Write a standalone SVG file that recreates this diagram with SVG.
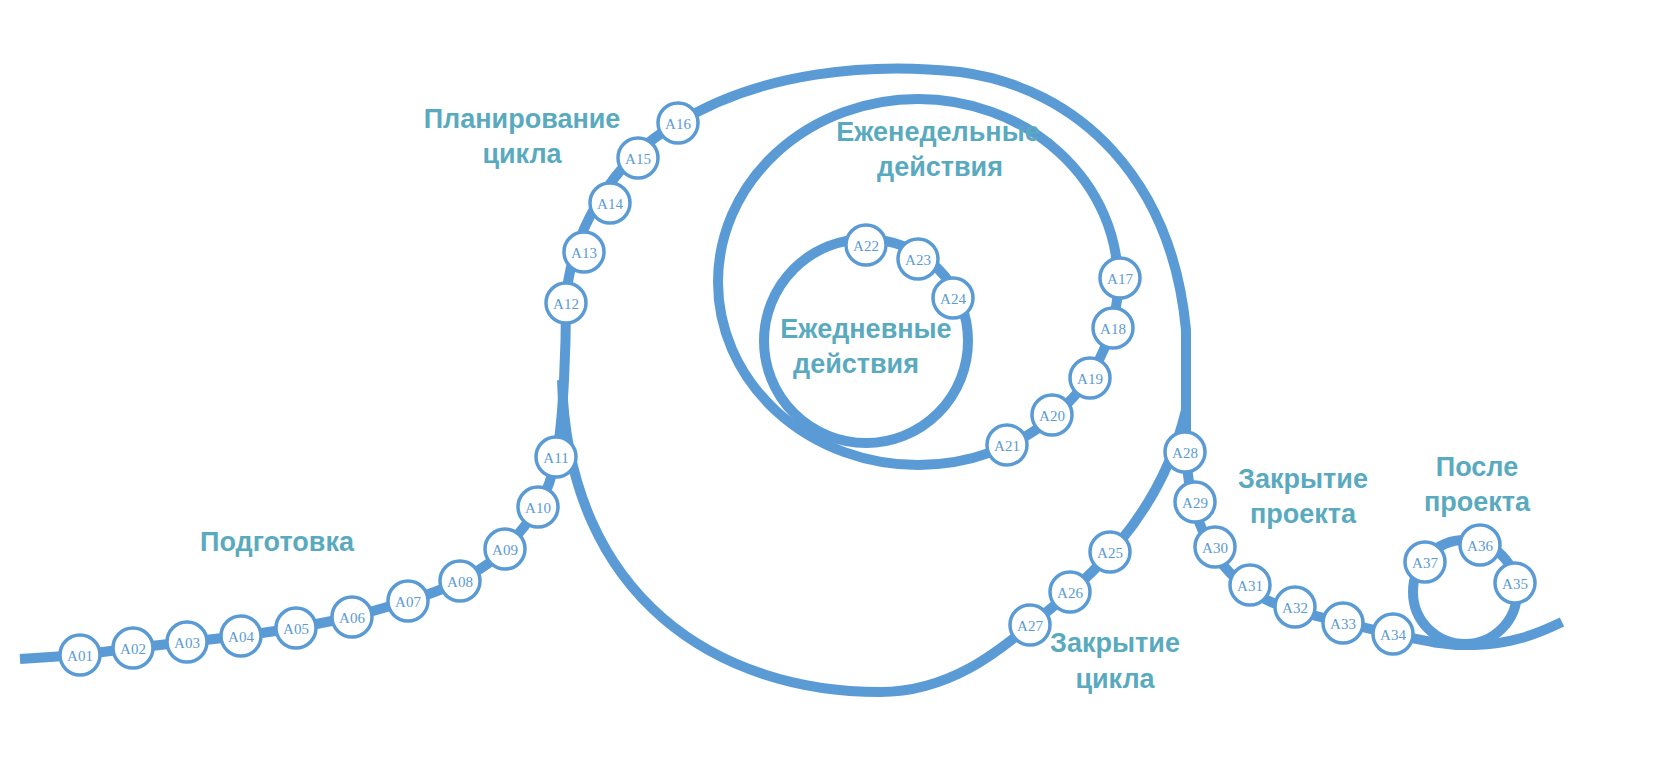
<svg xmlns="http://www.w3.org/2000/svg" width="1680" height="763" viewBox="0 0 1680 763">
<style>
.ln{fill:none;stroke:#5b9bd5;stroke-width:10;stroke-linejoin:round;stroke-linecap:butt}
.nd circle{fill:#fff;stroke:#5b9bd5;stroke-width:3.5}
.nd text{font-family:"Liberation Serif",serif;font-size:15px;fill:#5b9bd5;text-anchor:middle;dominant-baseline:central}
.lb{font-family:"Liberation Sans",Arial,sans-serif;font-weight:bold;font-size:27px;fill:#5aaabf;text-anchor:middle}
</style>
<rect width="1680" height="763" fill="#fff"/>
<g id="connectors">
<path class="ln" d="M20,659 L80,655 L133,648 L187,642 L241,636 L296,628 L352,617 L408,601 C430,594 445,589 460,581 C480,570 495,560 505,549 C520,533 530,520 538,507 C548,490 553,475 556,457 C564,420 566,340 566,303 C568,240 610,160 678,123 C760,72 870,62 960,72 C1080,88 1172,180 1186,330 L1186,452 C1190,540 1230,595 1300,612 C1340,622 1365,628 1393,634 C1420,640 1445,646 1475,645 C1510,644 1535,635 1562,622"/>
<path class="ln" d="M562,380 C568,600 720,692 880,692 C950,692 1000,650 1030,625 C1085,583 1160,520 1186,410"/>
<ellipse class="ln" cx="918" cy="282" rx="200" ry="183"/>
<circle class="ln" cx="866" cy="341" r="102"/>
<circle class="ln" cx="1465" cy="592" r="52"/>
</g>
<g class="nd">
<g id="A01"><circle cx="80" cy="655" r="20"/><text x="80" y="656">A01</text></g>
<g id="A02"><circle cx="133" cy="648" r="20"/><text x="133" y="649">A02</text></g>
<g id="A03"><circle cx="187" cy="642" r="20"/><text x="187" y="643">A03</text></g>
<g id="A04"><circle cx="241" cy="636" r="20"/><text x="241" y="637">A04</text></g>
<g id="A05"><circle cx="296" cy="628" r="20"/><text x="296" y="629">A05</text></g>
<g id="A06"><circle cx="352" cy="617" r="20"/><text x="352" y="618">A06</text></g>
<g id="A07"><circle cx="408" cy="601" r="20"/><text x="408" y="602">A07</text></g>
<g id="A08"><circle cx="460" cy="581" r="20"/><text x="460" y="582">A08</text></g>
<g id="A09"><circle cx="505" cy="549" r="20"/><text x="505" y="550">A09</text></g>
<g id="A10"><circle cx="538" cy="507" r="20"/><text x="538" y="508">A10</text></g>
<g id="A11"><circle cx="556" cy="457" r="20"/><text x="556" y="458">A11</text></g>
<g id="A12"><circle cx="566" cy="303" r="20"/><text x="566" y="304">A12</text></g>
<g id="A13"><circle cx="584" cy="252" r="20"/><text x="584" y="253">A13</text></g>
<g id="A14"><circle cx="610" cy="203" r="20"/><text x="610" y="204">A14</text></g>
<g id="A15"><circle cx="638" cy="158" r="20"/><text x="638" y="159">A15</text></g>
<g id="A16"><circle cx="678" cy="123" r="20"/><text x="678" y="124">A16</text></g>
<g id="A17"><circle cx="1120" cy="278" r="20"/><text x="1120" y="279">A17</text></g>
<g id="A18"><circle cx="1113" cy="328" r="20"/><text x="1113" y="329">A18</text></g>
<g id="A19"><circle cx="1090" cy="378" r="20"/><text x="1090" y="379">A19</text></g>
<g id="A20"><circle cx="1052" cy="415" r="20"/><text x="1052" y="416">A20</text></g>
<g id="A21"><circle cx="1007" cy="445" r="20"/><text x="1007" y="446">A21</text></g>
<g id="A22"><circle cx="866" cy="245" r="20"/><text x="866" y="246">A22</text></g>
<g id="A23"><circle cx="918" cy="259" r="20"/><text x="918" y="260">A23</text></g>
<g id="A24"><circle cx="953" cy="298" r="20"/><text x="953" y="299">A24</text></g>
<g id="A25"><circle cx="1110" cy="552" r="20"/><text x="1110" y="553">A25</text></g>
<g id="A26"><circle cx="1070" cy="592" r="20"/><text x="1070" y="593">A26</text></g>
<g id="A27"><circle cx="1030" cy="625" r="20"/><text x="1030" y="626">A27</text></g>
<g id="A28"><circle cx="1185" cy="452" r="20"/><text x="1185" y="453">A28</text></g>
<g id="A29"><circle cx="1195" cy="502" r="20"/><text x="1195" y="503">A29</text></g>
<g id="A30"><circle cx="1215" cy="547" r="20"/><text x="1215" y="548">A30</text></g>
<g id="A31"><circle cx="1250" cy="585" r="20"/><text x="1250" y="586">A31</text></g>
<g id="A32"><circle cx="1295" cy="607" r="20"/><text x="1295" y="608">A32</text></g>
<g id="A33"><circle cx="1343" cy="623" r="20"/><text x="1343" y="624">A33</text></g>
<g id="A34"><circle cx="1393" cy="634" r="20"/><text x="1393" y="635">A34</text></g>
<g id="A35"><circle cx="1515" cy="583" r="20"/><text x="1515" y="584">A35</text></g>
<g id="A36"><circle cx="1480" cy="545" r="20"/><text x="1480" y="546">A36</text></g>
<g id="A37"><circle cx="1425" cy="562" r="20"/><text x="1425" y="563">A37</text></g>
</g>
<g id="labels">
<text class="lb" x="522" y="128">Планирование</text><text class="lb" x="522" y="163">цикла</text>
<text class="lb" x="938" y="141">Еженедельные</text><text class="lb" x="940" y="176">действия</text>
<text class="lb" x="866" y="338">Ежедневные</text><text class="lb" x="856" y="373">действия</text>
<text class="lb" x="277" y="551">Подготовка</text>
<text class="lb" x="1115" y="652">Закрытие</text><text class="lb" x="1115" y="688">цикла</text>
<text class="lb" x="1303" y="488">Закрытие</text><text class="lb" x="1303" y="523">проекта</text>
<text class="lb" x="1477" y="476">После</text><text class="lb" x="1477" y="511">проекта</text>
</g>
</svg>
